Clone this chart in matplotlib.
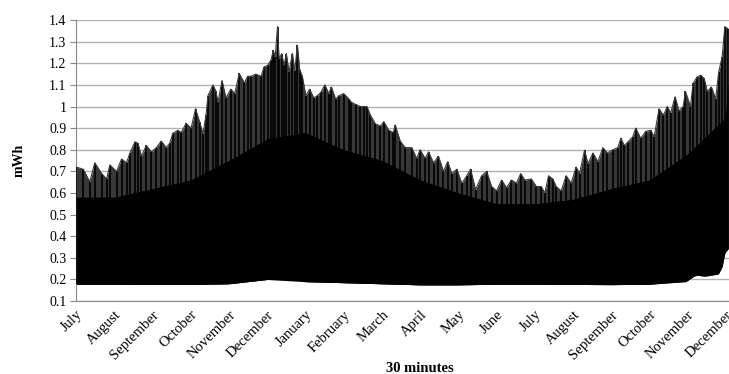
import numpy as np
import matplotlib
matplotlib.use("Agg")
import matplotlib.pyplot as plt

# month index (0 = first July) and the daily peak values
peak_m = [0.0, 0.19, 0.36, 0.49, 0.67, 0.8, 0.885, 1.06, 1.19, 1.32, 1.41, 1.54, 1.62, 1.71,
          1.84, 1.97, 2.1, 2.23, 2.36, 2.45, 2.53, 2.66, 2.75, 2.88, 3.01, 3.125, 3.23, 3.32,
          3.4, 3.45, 3.58, 3.66, 3.71, 3.82, 3.92, 4.05, 4.15, 4.27, 4.4, 4.49, 4.58, 4.7,
          4.84, 4.92, 5.01, 5.1, 5.16, 5.21, 5.27, 5.31, 5.38, 5.44, 5.5, 5.57, 5.66, 5.72,
          5.79, 5.85, 5.92, 6.01, 6.11, 6.22, 6.31, 6.4, 6.51, 6.61, 6.68, 6.79, 6.875, 7.0,
          7.14, 7.2, 7.31, 7.44, 7.53, 7.61, 7.7, 7.83, 7.96, 8.05, 8.18, 8.3, 8.35, 8.48,
          8.61, 8.78, 8.91, 9.0, 9.13, 9.22, 9.35, 9.48, 9.61, 9.72, 9.83, 9.96, 10.09, 10.22,
          10.32, 10.45, 10.61, 10.74, 10.87, 11.0, 11.13, 11.26, 11.39, 11.52, 11.63, 11.74,
          11.91, 12.04, 12.17, 12.26, 12.36, 12.47, 12.56, 12.69, 12.82, 12.95, 13.08, 13.17,
          13.3, 13.39, 13.52, 13.65, 13.78, 13.9, 14.04, 14.17, 14.25, 14.34, 14.43, 14.56,
          14.64, 14.77, 14.9, 15.03, 15.12, 15.25, 15.36, 15.47, 15.55, 15.67, 15.77, 15.88,
          15.94, 16.07, 16.14, 16.25, 16.34, 16.43, 16.51, 16.62, 16.73, 16.81, 16.9, 16.97,
          17.05]
peak_v = [0.72, 0.71, 0.652, 0.74, 0.69, 0.665, 0.73, 0.70, 0.757, 0.74, 0.785, 0.837, 0.83, 0.77,
          0.82, 0.79, 0.81, 0.84, 0.81, 0.83, 0.876, 0.89, 0.88, 0.922, 0.90, 0.99, 0.93, 0.875,
          0.96, 1.05, 1.10, 1.07, 1.02, 1.12, 1.04, 1.08, 1.06, 1.153, 1.11, 1.14, 1.14, 1.15,
          1.14, 1.184, 1.19, 1.215, 1.26, 1.23, 1.37, 1.22, 1.245, 1.19, 1.245, 1.16, 1.245, 1.165,
          1.284, 1.17, 1.14, 1.05, 1.08, 1.04, 1.05, 1.065, 1.10, 1.06, 1.09, 1.035, 1.05, 1.06,
          1.035, 1.02, 1.01, 1.0, 1.0, 1.0, 0.96, 0.92, 0.91, 0.93, 0.89, 0.88, 0.914, 0.84,
          0.81, 0.81, 0.76, 0.80, 0.76, 0.79, 0.74, 0.77, 0.70, 0.745, 0.69, 0.71, 0.645, 0.68,
          0.71, 0.615, 0.68, 0.70, 0.63, 0.61, 0.66, 0.625, 0.66, 0.645, 0.69, 0.66,
          0.665, 0.63, 0.63, 0.60, 0.68, 0.665, 0.63, 0.61, 0.68, 0.645, 0.72, 0.69,
          0.798, 0.735, 0.785, 0.745, 0.81, 0.785, 0.80, 0.81, 0.853, 0.82, 0.835, 0.86,
          0.90, 0.853, 0.885, 0.89, 0.86, 0.99, 0.96, 1.0, 0.97, 1.045, 0.98, 1.0,
          1.07, 1.0, 1.107, 1.138, 1.145, 1.13, 1.07, 1.09, 1.035, 1.16, 1.23, 1.37,
          1.36]

# night-time minimum (bottom edge of the band)
low_m = [0, 1, 2, 3, 4, 4.5, 5.0, 5.5, 5.6, 5.75, 5.85, 5.95, 7, 8, 9, 10, 11, 12, 13,
         14, 15, 15.95, 16.2, 16.45, 16.8, 16.9, 16.98, 17.05]
low_v = [0.178, 0.178, 0.177, 0.177, 0.18, 0.19, 0.2, 0.215, 0.23, 0.255, 0.23, 0.19, 0.185,
         0.18, 0.175, 0.175, 0.178, 0.178, 0.177, 0.176, 0.178, 0.19, 0.22, 0.215, 0.225, 0.26,
         0.33, 0.34]

# top of the solid black core, one reading per month
core_m = list(range(18)) + [17.05]
core_v = [0.58, 0.58, 0.62, 0.66, 0.75, 0.85, 0.88, 0.8, 0.75, 0.66, 0.6, 0.55, 0.55, 0.57,
          0.62, 0.66, 0.78, 0.95, 1.1]

months = ["July", "August", "September", "October", "November", "December", "January",
          "February", "March", "April", "May", "June", "July", "August", "September",
          "October", "November", "December"]

plt.rcParams['font.family'] = ['Liberation Serif', 'DejaVu Serif']

fig = plt.figure(figsize=(7.29, 3.74), dpi=100)
ax = fig.add_axes([0.1043, 0.195, 0.944, 0.7513])

low_at_peaks = np.interp(peak_m, low_m, low_v)
# grey mass of overlapping daily spikes
ax.fill_between(peak_m, low_at_peaks, peak_v, color='#383838', lw=0, zorder=2)
# solid black core of the band
ax.fill_between(core_m, np.interp(core_m, low_m, low_v), core_v, color='black', lw=0, zorder=2)
ax.fill_between(low_m, low_v, np.interp(low_m, core_m, core_v), color='black', lw=0, zorder=2)
# daily peaks
ax.vlines(peak_m, low_at_peaks, peak_v, color='black', lw=1.2, zorder=3)
ax.plot(peak_m, peak_v, color='#3c3c3c', lw=0.8, zorder=3)

ax.set_xlim(0, 18)
ax.set_ylim(0.1, 1.4)
ax.set_yticks(np.arange(0.1, 1.41, 0.1))
ax.set_yticklabels(["0.1", "0.2", "0.3", "0.4", "0.5", "0.6", "0.7", "0.8", "0.9", "1",
                    "1.1", "1.2", "1.3", "1.4"])
ax.set_xticks(range(len(months)))
ax.set_xticklabels(months, rotation=45, ha='right', va='top', rotation_mode='anchor')
ax.tick_params(axis='x', length=0, pad=5, labelsize=10.5)
ax.tick_params(axis='y', length=4, color='#888888', labelsize=10, pad=3)

ax.grid(axis='y', color='#b0b0b0', lw=1, zorder=1)
for s in ['top', 'right']:
    ax.spines[s].set_visible(False)
ax.spines['left'].set_color('#888888')
ax.spines['bottom'].set_color('#888888')

ax.set_ylabel("mWh", fontweight='bold', fontsize=10, labelpad=17)
ax.set_xlabel("30 minutes", fontweight='bold', fontsize=10.5, labelpad=0)

fig.savefig("out.png", dpi=100)
